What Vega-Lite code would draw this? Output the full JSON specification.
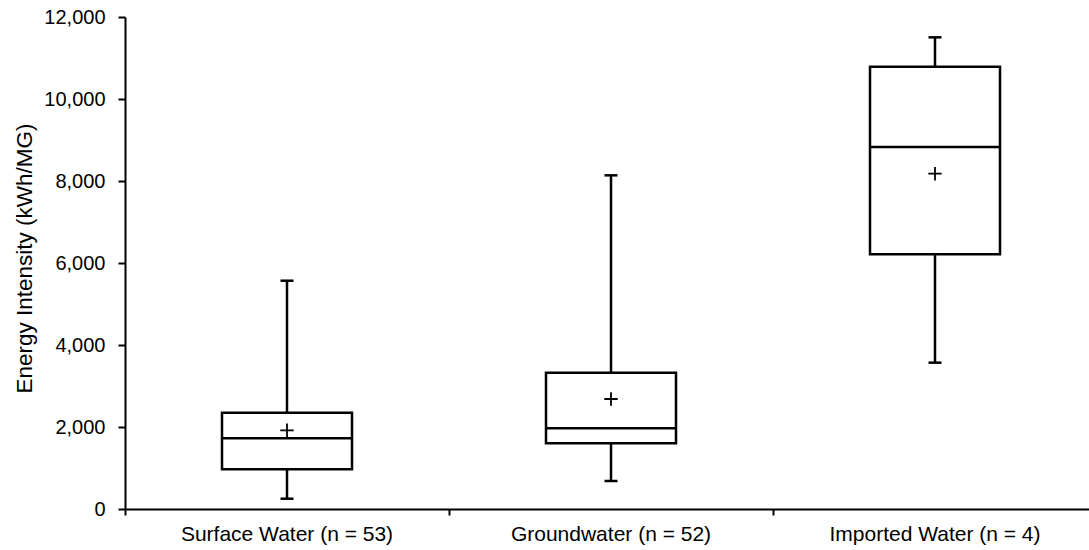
{
  "$schema": "https://vega.github.io/schema/vega-lite/v6.json",
  "autosize": "none",
  "padding": {"left": 125, "top": 17, "right": 0, "bottom": 41},
  "width": 964,
  "height": 492,
  "background": "white",
  "config": {
    "view": {"stroke": null},
    "font": "Liberation Sans",
    "axis": {"labelFont": "Liberation Sans", "titleFont": "Liberation Sans", "labelColor": "black", "titleColor": "black", "grid": false},
    "axisY": {
      "labelFontSize": 20,
      "labelPadding": 13,
      "domainColor": "black",
      "domainWidth": 2,
      "tickColor": "black",
      "tickWidth": 2,
      "tickSize": 7,
      "titleFontSize": 22.5,
      "titleFontWeight": "normal",
      "titleAngle": -90,
      "titleX": -101,
      "titleY": 241,
      "titleAlign": "center",
      "titleBaseline": "middle"
    }
  },
  "data": {
    "values": [
      {"source": "Surface Water (n = 53)", "lower": 251, "q1": 968, "median": 1724, "q3": 2349, "upper": 5568, "mean": 1919},
      {"source": "Groundwater (n = 52)", "lower": 683, "q1": 1602, "median": 1967, "q3": 3325, "upper": 8138, "mean": 2683},
      {"source": "Imported Water (n = 4)", "lower": 3569, "q1": 6211, "median": 8829, "q3": 10789, "upper": 11504, "mean": 8178}
    ]
  },
  "encoding": {
    "x": {
      "field": "source",
      "type": "nominal",
      "sort": null,
      "scale": {"type": "band", "range": [0, 972], "paddingInner": 0, "paddingOuter": 0},
      "axis": {
        "title": null,
        "labelAngle": 0,
        "labelFontSize": 21,
        "labelPadding": 8,
        "labelLimit": 0,
        "domainColor": "black",
        "domainWidth": 2,
        "tickColor": "black",
        "tickWidth": 2,
        "tickSize": 6,
        "bandPosition": 0
      }
    }
  },
  "layer": [
    {
      "mark": {"type": "rule", "color": "black", "strokeWidth": 2.5},
      "encoding": {
        "y": {
          "field": "lower",
          "type": "quantitative",
          "scale": {"domain": [0, 12000], "nice": false},
          "axis": {"values": [0, 2000, 4000, 6000, 8000, 10000, 12000], "format": ",.0f", "title": "Energy Intensity (kWh/MG)"}
        },
        "y2": {"field": "upper"}
      }
    },
    {
      "mark": {"type": "bar", "fill": "white", "stroke": "black", "strokeWidth": 2.5, "size": 130},
      "encoding": {
        "y": {"field": "q1", "type": "quantitative", "axis": {"values": [0, 2000, 4000, 6000, 8000, 10000, 12000], "format": ",.0f", "title": "Energy Intensity (kWh/MG)"}},
        "y2": {"field": "q3"}
      }
    },
    {
      "mark": {"type": "tick", "color": "black", "opacity": 1, "size": 130, "thickness": 2.5, "orient": "horizontal"},
      "encoding": {"y": {"field": "median", "type": "quantitative", "axis": {"values": [0, 2000, 4000, 6000, 8000, 10000, 12000], "format": ",.0f", "title": "Energy Intensity (kWh/MG)"}}}
    },
    {
      "mark": {"type": "tick", "color": "black", "opacity": 1, "size": 13, "thickness": 2.5, "orient": "horizontal"},
      "encoding": {"y": {"field": "lower", "type": "quantitative", "axis": {"values": [0, 2000, 4000, 6000, 8000, 10000, 12000], "format": ",.0f", "title": "Energy Intensity (kWh/MG)"}}}
    },
    {
      "mark": {"type": "tick", "color": "black", "opacity": 1, "size": 13, "thickness": 2.5, "orient": "horizontal"},
      "encoding": {"y": {"field": "upper", "type": "quantitative", "axis": {"values": [0, 2000, 4000, 6000, 8000, 10000, 12000], "format": ",.0f", "title": "Energy Intensity (kWh/MG)"}}}
    },
    {
      "mark": {"type": "point", "shape": "M-1,0L1,0M0,-1L0,1", "filled": false, "stroke": "black", "strokeWidth": 1.8, "size": 180, "opacity": 1},
      "encoding": {"y": {"field": "mean", "type": "quantitative", "axis": {"values": [0, 2000, 4000, 6000, 8000, 10000, 12000], "format": ",.0f", "title": "Energy Intensity (kWh/MG)"}}}
    }
  ]
}
